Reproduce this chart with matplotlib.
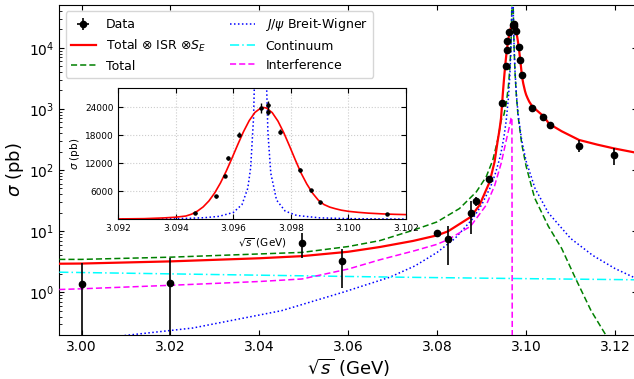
import numpy as np
import matplotlib
matplotlib.use("Agg")
import matplotlib.pyplot as plt

# ---------------- data ----------------
x_data = [3.0000, 3.0200, 3.0496, 3.0586, 3.0799, 3.0824, 3.0875, 3.0887, 3.0916,
          3.09467, 3.09540, 3.09570, 3.09580, 3.09618, 3.09697, 3.09719, 3.09721,
          3.09763, 3.09832, 3.09871, 3.09902, 3.10135, 3.1039, 3.1054, 3.1119, 3.1197]
y_data = [1.37, 1.43, 6.5, 3.19, 9.3, 7.4, 20.1, 31.2, 70.9,
          1255, 4937, 9342, 13023, 18067, 23812, 22961, 24366,
          18705, 10470, 6214, 3596, 1043, 748, 546, 249, 176]
y_err = [1.63, 2.17, 2.9, 2.0, 1.0, 4.6, 11, 5, 8,
         150, 300, 400, 450, 500, 1000, 600, 900,
         500, 400, 300, 250, 100, 40, 35, 55, 57]
x_err = [0.00006] * len(x_data)

# Total (x) ISR (x) S_E  -- red
x_red = [2.995, 3.000, 3.020, 3.040, 3.0496, 3.060, 3.0671, 3.0745, 3.0799, 3.0824,
         3.0875, 3.0895, 3.0918, 3.0929, 3.0936, 3.0940, 3.09435, 3.09455, 3.09475,
         3.09495, 3.09515, 3.09535, 3.09555, 3.09575, 3.09595, 3.09615, 3.09635,
         3.09655, 3.09675, 3.09695, 3.09705, 3.09715, 3.09735, 3.09755, 3.09775,
         3.09795, 3.09815, 3.09835, 3.09855, 3.09875, 3.09895, 3.09915, 3.09935,
         3.09955, 3.09975, 3.1000, 3.10035, 3.1007, 3.1012, 3.1016, 3.1020,
         3.1039, 3.1052, 3.108, 3.1119, 3.116, 3.1197, 3.125]
y_red = [2.93, 2.95, 3.2, 3.6, 3.9, 4.6, 5.5, 6.9, 8.5, 9.9,
         17, 26.5, 64, 136, 300, 450, 700, 1100, 1750,
         2650, 3930, 5630, 7760, 10270, 13050, 15940, 18710,
         21090, 22850, 23780, 23900, 23775, 22800, 20980, 18520,
         15680, 12730, 9910, 7560, 5600, 4100, 3150, 2600,
         2250, 1950, 1700, 1480, 1310, 1150, 1060, 1000,
         760, 567, 430, 310, 260, 226, 190]

# Total (no ISR) -- green
x_tot = [2.995, 3.000, 3.020, 3.0496, 3.060, 3.0671, 3.0745, 3.0799, 3.085, 3.0888,
         3.091, 3.0925, 3.0936, 3.0944, 3.095, 3.0955, 3.096, 3.0963, 3.0965, 3.0966,
         3.0967, 3.0968, 3.09694, 3.0971, 3.0972, 3.0973, 3.0975, 3.0978, 3.0982,
         3.099, 3.100, 3.1019, 3.105, 3.108, 3.111, 3.1146, 3.1181, 3.120]
y_tot = [3.45, 3.45, 3.75, 4.49, 5.6, 7.0, 10.3, 14.1, 23.4, 43.9,
         77, 145, 310, 660, 800, 1200, 2300, 4300, 8000, 12500,
         23000, 60000, 520000, 46000, 18300, 9600, 3950, 1650, 750,
         270, 115, 35, 12, 5.2, 1.75, 0.5, 0.19, 0.12]

# J/psi Breit-Wigner -- blue
x_bw = [3.000, 3.008, 3.025, 3.045, 3.0588, 3.0693, 3.075, 3.080, 3.084, 3.088,
        3.090, 3.092, 3.093, 3.094, 3.0945, 3.095, 3.0955, 3.0960, 3.0963, 3.0965,
        3.0966, 3.0967, 3.09675, 3.0968, 3.0969, 3.09694, 3.0970, 3.0971, 3.09713,
        3.0972, 3.0973, 3.0975, 3.0978, 3.0982, 3.0990, 3.1000, 3.1020, 3.105,
        3.110, 3.115, 3.120, 3.125]
y_bw = [0.15, 0.19, 0.26, 0.5, 1.0, 1.76, 2.7, 4.5, 7.6, 16,
        27, 53, 84, 150, 218, 345, 627, 1467, 3155, 6630,
        11000, 21630, 33700, 58800, 317000, 520000, 317000, 46300, 33700,
        18550, 9840, 4110, 1755, 818, 306, 139, 50, 19.9,
        7.6, 4.0, 2.44, 1.65]

# Continuum -- cyan
x_cont = [2.995, 3.030, 3.070, 3.100, 3.125]
y_cont = [2.13, 1.95, 1.77, 1.67, 1.60]

# Interference -- magenta
x_int = [2.995, 3.000, 3.020, 3.040, 3.0496, 3.060, 3.0671, 3.075, 3.0799, 3.0824,
         3.0875, 3.091, 3.0929, 3.0944, 3.0955, 3.0962, 3.0966, 3.0968, 3.09690]
y_int = [1.11, 1.14, 1.3, 1.5, 1.65, 2.4, 3.4, 4.8, 6.07, 7.25,
         12, 26.5, 55, 130, 300, 500, 700, 730, 0.01]

x_ticks = [3.00, 3.02, 3.04, 3.06, 3.08, 3.10, 3.12]
inset_x_ticks = [3.092, 3.094, 3.096, 3.098, 3.100, 3.102]
inset_y_ticks = [6000, 12000, 18000, 24000]

# ---------------- figure ----------------
fig = plt.figure(figsize=(6.34, 3.79), dpi=100)
ax = fig.add_axes([0.0935, 0.1161, 0.9117, 0.8707])

ax.plot(x_red, y_red, color='red', lw=1.6, label=r'Total $\otimes$ ISR $\otimes S_E$', zorder=4)
ax.plot(x_tot, y_tot, color='green', lw=1.1, ls=(0, (4, 2)), label='Total', zorder=3)
ax.plot(x_bw, y_bw, color='blue', lw=1.1, ls=(0, (1, 1.6)), label=r'$J/\psi$ Breit-Wigner', zorder=3)
ax.plot(x_cont, y_cont, color='cyan', lw=1.1, ls=(0, (6, 2, 1, 2)), label='Continuum', zorder=3)
ax.plot(x_int, y_int, color='magenta', lw=1.1, ls=(0, (4, 2)), label='Interference', zorder=3)
ax.errorbar(x_data, y_data, yerr=y_err, xerr=x_err, fmt='o', color='black',
            ms=4.5, elinewidth=1.2, capsize=0, label='Data', zorder=5)

ax.set_yscale('log')
ax.set_xlim(2.995, 3.125)
ax.set_ylim(0.2, 5e4)
ax.set_xticks(x_ticks)
ax.set_xticklabels([f"{t:.2f}" for t in x_ticks])
ax.tick_params(axis='both', which='both', direction='in', labelsize=10, top=True, right=True)
ax.tick_params(axis='x', which='minor', bottom=False, top=False)
ax.set_xlabel(r'$\sqrt{s}$ (GeV)', fontsize=13, labelpad=2)
ax.set_ylabel(r'$\sigma$ (pb)', fontsize=13, labelpad=2)

handles, labels = ax.get_legend_handles_labels()
order = ['Data', r'Total $\otimes$ ISR $\otimes S_E$', 'Total',
         r'$J/\psi$ Breit-Wigner', 'Continuum', 'Interference']
hmap = dict(zip(labels, handles))
ax.legend([hmap[k] for k in order], order, loc='upper left', ncol=2, fontsize=9,
          columnspacing=2.0, handletextpad=0.8, borderaxespad=0.5)

# ---------------- inset ----------------
axin = fig.add_axes([0.1866, 0.4214, 0.4538, 0.3456])
axin.plot(x_bw, y_bw, color='blue', lw=1.1, ls=(0, (1, 1.6)))
axin.plot(x_red, y_red, color='red', lw=1.2)
axin.errorbar(x_data, y_data, yerr=y_err, xerr=x_err, fmt='o', color='black',
              ms=2.2, elinewidth=1.0, capsize=0)
axin.set_xlim(3.092, 3.102)
axin.set_ylim(0, 28000)
axin.set_xticks(inset_x_ticks)
axin.set_xticklabels([f"{t:.3f}" for t in inset_x_ticks])
axin.set_yticks(inset_y_ticks)
axin.tick_params(axis='both', direction='in', labelsize=6.5, top=True, right=True)
axin.grid(True, ls=':', color='#cccccc', lw=0.8)
axin.set_xlabel(r'$\sqrt{s}$ (GeV)', fontsize=7.5, labelpad=2)
axin.set_ylabel(r'$\sigma$ (pb)', fontsize=7.5, labelpad=2)

fig.savefig('out.png', dpi=100)
